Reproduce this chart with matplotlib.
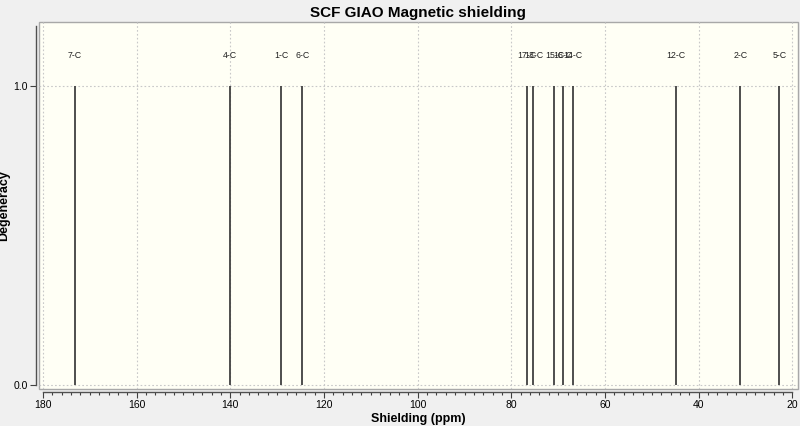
import numpy as np
from matplotlib import pyplot as plt
from matplotlib.ticker import MultipleLocator

# peak positions (ppm) and atom labels
shifts = [173.2, 140.0, 129.2, 124.6, 76.6, 75.3, 70.8, 69.0, 66.8, 44.9, 31.1, 22.8]
labels = ['7-C', '4-C', '1-C', '6-C', '17-C', '13-C', '15-C', '16-C', '14-C', '12-C', '2-C', '5-C']
degeneracy = [1, 1, 1, 1, 1, 1, 1, 1, 1, 1, 1, 1]

plt.rcParams['font.family'] = ['Liberation Sans', 'DejaVu Sans']

fig = plt.figure(figsize=(8, 4.26), dpi=100, facecolor='#f0f0f0')
ax = fig.add_axes([0.049, 0.087, 0.948, 0.861])
ax.set_facecolor('#fffff5')
ax.patch.set_edgecolor('#a8a8a8')
ax.patch.set_linewidth(1.0)

ax.vlines(shifts, 0, degeneracy, color='#404040', lw=1.3)
for s, lab, d in zip(shifts, labels, degeneracy):
    ax.text(s, d + 0.1, lab, ha='center', va='center', fontsize=6.3, color='#202020')

ax.set_xlim(180.8, 18.9)
ax.set_ylim(-0.012, 1.213)

ax.xaxis.set_major_locator(MultipleLocator(20))
ax.xaxis.set_minor_locator(MultipleLocator(2))
ax.set_yticks([0.0, 1.0])
ax.set_yticklabels(['0.0', '1.0'])
ax.grid(True, which='major', ls=(0, (1.5, 2)), color='#c8c8c8', lw=0.8)

for side in ['top', 'right']:
    ax.spines[side].set_visible(False)
ax.spines['left'].set_position(('outward', 2))
ax.spines['bottom'].set_position(('outward', 2))
ax.spines['left'].set_bounds(0.0, 1.2)
ax.spines['bottom'].set_bounds(180, 20)
for side in ['left', 'bottom']:
    ax.spines[side].set_color('#505050')
    ax.spines[side].set_linewidth(1.0)

ax.tick_params(which='major', length=4, width=0.8, color='#404040', labelsize=7.5, pad=2)
ax.tick_params(which='minor', length=2.5, width=0.8, color='#404040')

ax.set_title('SCF GIAO Magnetic shielding', fontsize=11, fontweight='bold', pad=4)
ax.set_xlabel('Shielding (ppm)', fontsize=9, fontweight='bold', labelpad=2)
ax.set_ylabel('Degeneracy', fontsize=9, fontweight='bold')
ax.yaxis.set_label_coords(-0.038, 0.5)

fig.savefig('out.png', dpi=100, facecolor=fig.get_facecolor())
